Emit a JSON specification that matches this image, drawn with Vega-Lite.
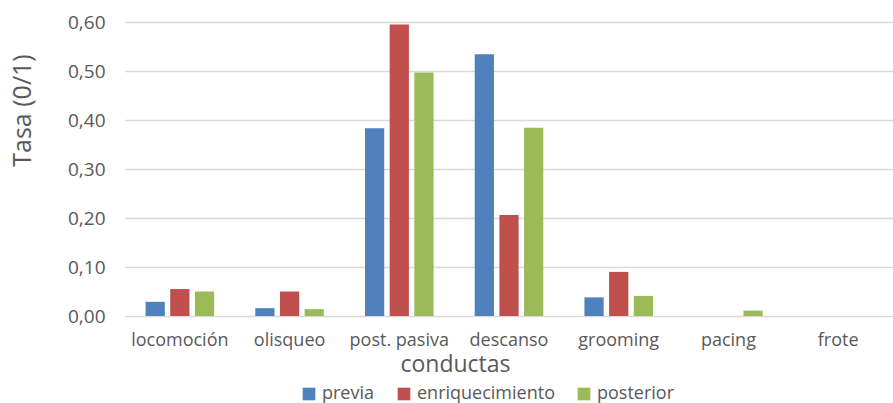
{
  "$schema": "https://vega.github.io/schema/vega-lite/v6.json",
  "width": 768,
  "height": 294,
  "autosize": {"type": "none"},
  "padding": {"left": 125, "top": 22, "right": 0, "bottom": 87},
  "background": "white",
  "data": {
    "values": [
      {"conducta": "locomoción", "fase": "previa", "tasa": 0.029},
      {"conducta": "locomoción", "fase": "enriquecimiento", "tasa": 0.055},
      {"conducta": "locomoción", "fase": "posterior", "tasa": 0.050},
      {"conducta": "olisqueo", "fase": "previa", "tasa": 0.016},
      {"conducta": "olisqueo", "fase": "enriquecimiento", "tasa": 0.050},
      {"conducta": "olisqueo", "fase": "posterior", "tasa": 0.014},
      {"conducta": "post. pasiva", "fase": "previa", "tasa": 0.383},
      {"conducta": "post. pasiva", "fase": "enriquecimiento", "tasa": 0.595},
      {"conducta": "post. pasiva", "fase": "posterior", "tasa": 0.497},
      {"conducta": "descanso", "fase": "previa", "tasa": 0.534},
      {"conducta": "descanso", "fase": "enriquecimiento", "tasa": 0.206},
      {"conducta": "descanso", "fase": "posterior", "tasa": 0.384},
      {"conducta": "grooming", "fase": "previa", "tasa": 0.038},
      {"conducta": "grooming", "fase": "enriquecimiento", "tasa": 0.090},
      {"conducta": "grooming", "fase": "posterior", "tasa": 0.041},
      {"conducta": "pacing", "fase": "previa", "tasa": 0},
      {"conducta": "pacing", "fase": "enriquecimiento", "tasa": 0},
      {"conducta": "pacing", "fase": "posterior", "tasa": 0.011},
      {"conducta": "frote", "fase": "previa", "tasa": 0},
      {"conducta": "frote", "fase": "enriquecimiento", "tasa": 0},
      {"conducta": "frote", "fase": "posterior", "tasa": 0}
    ]
  },
  "mark": {"type": "bar"},
  "encoding": {
    "x": {
      "field": "conducta",
      "type": "nominal",
      "sort": ["locomoción", "olisqueo", "post. pasiva", "descanso", "grooming", "pacing", "frote"],
      "scale": {"paddingInner": 0.375, "paddingOuter": 0.1875},
      "axis": {
        "title": "conductas",
        "labelAngle": 0,
        "labelFontSize": 18,
        "labelColor": "#595959",
        "labelPadding": 15,
        "ticks": false,
        "domain": false,
        "titleFontSize": 23,
        "titleFontWeight": "normal",
        "titleColor": "#595959",
        "titleX": 330,
        "titleY": 37,
        "titleAlign": "center"
      }
    },
    "xOffset": {
      "field": "fase",
      "type": "nominal",
      "sort": ["previa", "enriquecimiento", "posterior"],
      "scale": {"paddingInner": 0.22, "paddingOuter": 0}
    },
    "y": {
      "field": "tasa",
      "type": "quantitative",
      "scale": {"domain": [0, 0.6], "nice": false},
      "axis": {
        "title": "Tasa (0/1)",
        "values": [0, 0.1, 0.2, 0.3, 0.4, 0.5, 0.6],
        "labelExpr": "replace(format(datum.value, '.2f'), '.', ',')",
        "labelFontSize": 19,
        "labelColor": "#595959",
        "labelPadding": 20,
        "ticks": false,
        "domain": false,
        "grid": true,
        "gridColor": "#D9D9D9",
        "gridWidth": 1.5,
        "titleFontSize": 25,
        "titleFontWeight": "normal",
        "titleColor": "#595959",
        "titleX": -90,
        "titleY": 88,
        "titleAlign": "center"
      }
    },
    "color": {
      "field": "fase",
      "type": "nominal",
      "sort": ["previa", "enriquecimiento", "posterior"],
      "scale": {
        "domain": ["previa", "enriquecimiento", "posterior"],
        "range": ["#4F81BD", "#C0504D", "#9BBB59"]
      },
      "legend": {
        "title": null,
        "orient": "none",
        "direction": "horizontal",
        "legendX": 175,
        "legendY": 363,
        "symbolType": "square",
        "symbolSize": 160,
        "symbolStrokeWidth": 0,
        "labelFontSize": 18,
        "labelColor": "#595959",
        "columnPadding": 20
      }
    }
  },
  "config": {
    "font": "Open Sans",
    "view": {"stroke": null}
  }
}
